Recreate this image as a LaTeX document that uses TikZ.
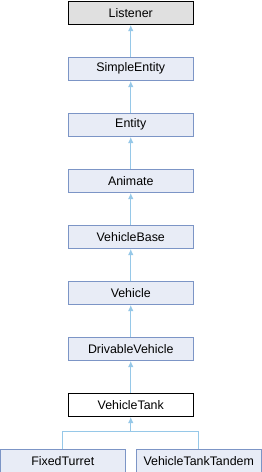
\documentclass[tikz,border=0pt]{standalone}
\usepackage{fontspec}
\setmainfont{Liberation Sans}
\usetikzlibrary{arrows.meta}
\definecolor{nodefill}{RGB}{232,236,246}
\definecolor{nodeline}{RGB}{124,149,198}
\definecolor{edgecol}{RGB}{150,200,232}
\definecolor{rootfill}{RGB}{224,224,224}
\tikzset{
  cls/.style={draw=nodeline, fill=nodefill, line width=1pt, minimum width=125pt, minimum height=23.5pt, inner sep=0pt, font=\fontsize{12.4pt}{14pt}\selectfont, anchor=north},
  rootcls/.style={cls, draw=black, fill=rootfill},
  curcls/.style={cls, draw=black, fill=white},
  edge/.style={draw=edgecol, line width=1pt, -{Latex[length=6pt,width=5.5pt]}},
  plain/.style={draw=edgecol, line width=1pt}
}
\begin{document}
\begin{tikzpicture}[x=1pt,y=-1pt]
\useasboundingbox (0,0) rectangle (262,472);
\node[rootcls] (listener) at (130.75,0.5) {Listener};
\node[cls] (simple) at (130.75,56.5) {SimpleEntity};
\node[cls] (entity) at (130.75,112.5) {Entity};
\node[cls] (animate) at (130.75,168.5) {Animate};
\node[cls] (vbase) at (130.75,224.5) {VehicleBase};
\node[cls] (vehicle) at (130.75,280.5) {Vehicle};
\node[cls] (drivable) at (130.75,336.5) {DrivableVehicle};
\node[curcls] (tank) at (130.75,392.5) {VehicleTank};
\node[cls] (fixed) at (62.75,448.5) {FixedTurret};
\node[cls] (tandem) at (198.75,448.5) {VehicleTankTandem};
\draw[edge] (simple.north) -- (listener.south);
\draw[edge] (entity.north) -- (simple.south);
\draw[edge] (animate.north) -- (entity.south);
\draw[edge] (vbase.north) -- (animate.south);
\draw[edge] (vehicle.north) -- (vbase.south);
\draw[edge] (drivable.north) -- (vehicle.south);
\draw[edge] (tank.north) -- (drivable.south);
\coordinate (junc) at (130.75,431.5);
\draw[plain] (fixed.north) |- (junc);
\draw[plain] (tandem.north) |- (junc);
\draw[edge] (junc) -- (tank.south);
\end{tikzpicture}
\end{document}
